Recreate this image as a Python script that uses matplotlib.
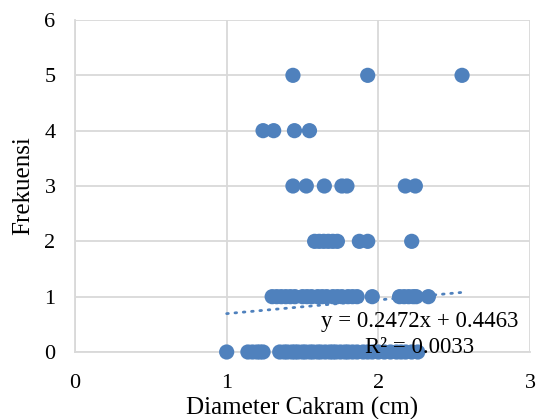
import matplotlib
matplotlib.use("Agg")
import matplotlib.pyplot as plt
import numpy as np

# Data
x_f0 = [1.0, 1.14, 1.17, 1.20, 1.22, 1.24, 1.35, 1.38, 1.40, 1.43, 1.45, 1.47, 1.50,
        1.52, 1.55, 1.57, 1.60, 1.62, 1.65, 1.68, 1.70, 1.72, 1.75, 1.78, 1.80, 1.83,
        1.86, 1.90, 1.93, 1.96, 2.00, 2.04, 2.08, 2.12, 2.15, 2.18, 2.22, 2.26]
x_f1 = [1.30, 1.33, 1.36, 1.39, 1.42, 1.45, 1.50, 1.53, 1.56, 1.60, 1.63, 1.66, 1.70,
        1.73, 1.76, 1.80, 1.83, 1.86, 1.96, 2.14, 2.17, 2.20, 2.23, 2.25, 2.33]
x_f2 = [1.58, 1.61, 1.64, 1.67, 1.70, 1.73, 1.875, 1.93, 2.22]
x_f3 = [1.437, 1.525, 1.644, 1.76, 1.793, 2.178, 2.244]
x_f4 = [1.24, 1.31, 1.447, 1.546]
x_f5 = [1.437, 1.93, 2.552]

rows = [(0, x_f0), (1, x_f1), (2, x_f2), (3, x_f3), (4, x_f4), (5, x_f5)]

slope = 0.2472
intercept = 0.4463
r2 = 0.0033

x_ticks = [0, 1, 2, 3]
y_ticks = [0, 1, 2, 3, 4, 5, 6]

blue = "#4f81bd"
grid = "#d9d9d9"

plt.rcParams['font.family'] = ['Liberation Serif', 'DejaVu Serif']

fig = plt.figure(figsize=(5.36, 4.19), dpi=100)
ax = fig.add_axes([75/536, 1-352/419, (530-75)/536, (352-20)/419])

xs = []
ys = []
for yv, xl in rows:
    xs += xl
    ys += [yv] * len(xl)
ax.scatter(xs, ys, s=120, color=blue, edgecolors='none', zorder=3, clip_on=False)

xmin, xmax = min(xs), max(xs)
tx = np.array([xmin, xmax])
ax.plot(tx, slope*tx + intercept, color=blue, lw=2, linestyle=(0, (0.6, 2.4)),
        dash_capstyle='round', zorder=4)

ax.set_xlim(0, 3)
ax.set_ylim(0, 6)
ax.set_xticks(x_ticks)
ax.set_yticks(y_ticks)
ax.grid(True, color=grid, lw=1.3, zorder=0)
ax.set_axisbelow(True)
for s in ['top', 'right']:
    ax.spines[s].set_visible(False)
for s in ['left', 'bottom']:
    ax.spines[s].set_color(grid)
    ax.spines[s].set_linewidth(1.3)
ax.tick_params(length=0, labelsize=16, colors='black')
ax.tick_params(axis='x', pad=16)
ax.tick_params(axis='y', pad=14)

ax.set_xlabel("Diameter Cakram (cm)", fontsize=18, labelpad=3)
ax.set_ylabel("Frekuensi", fontsize=18, labelpad=7)

ax.text(2.27, 0.56, f"y = {slope}x + {intercept}", fontsize=16.5, ha='center', va='center', zorder=5)
ax.text(2.27, 0.08, f"R² = {r2}", fontsize=16.5, ha='center', va='center', zorder=5)

fig.savefig("out.png", dpi=100)
